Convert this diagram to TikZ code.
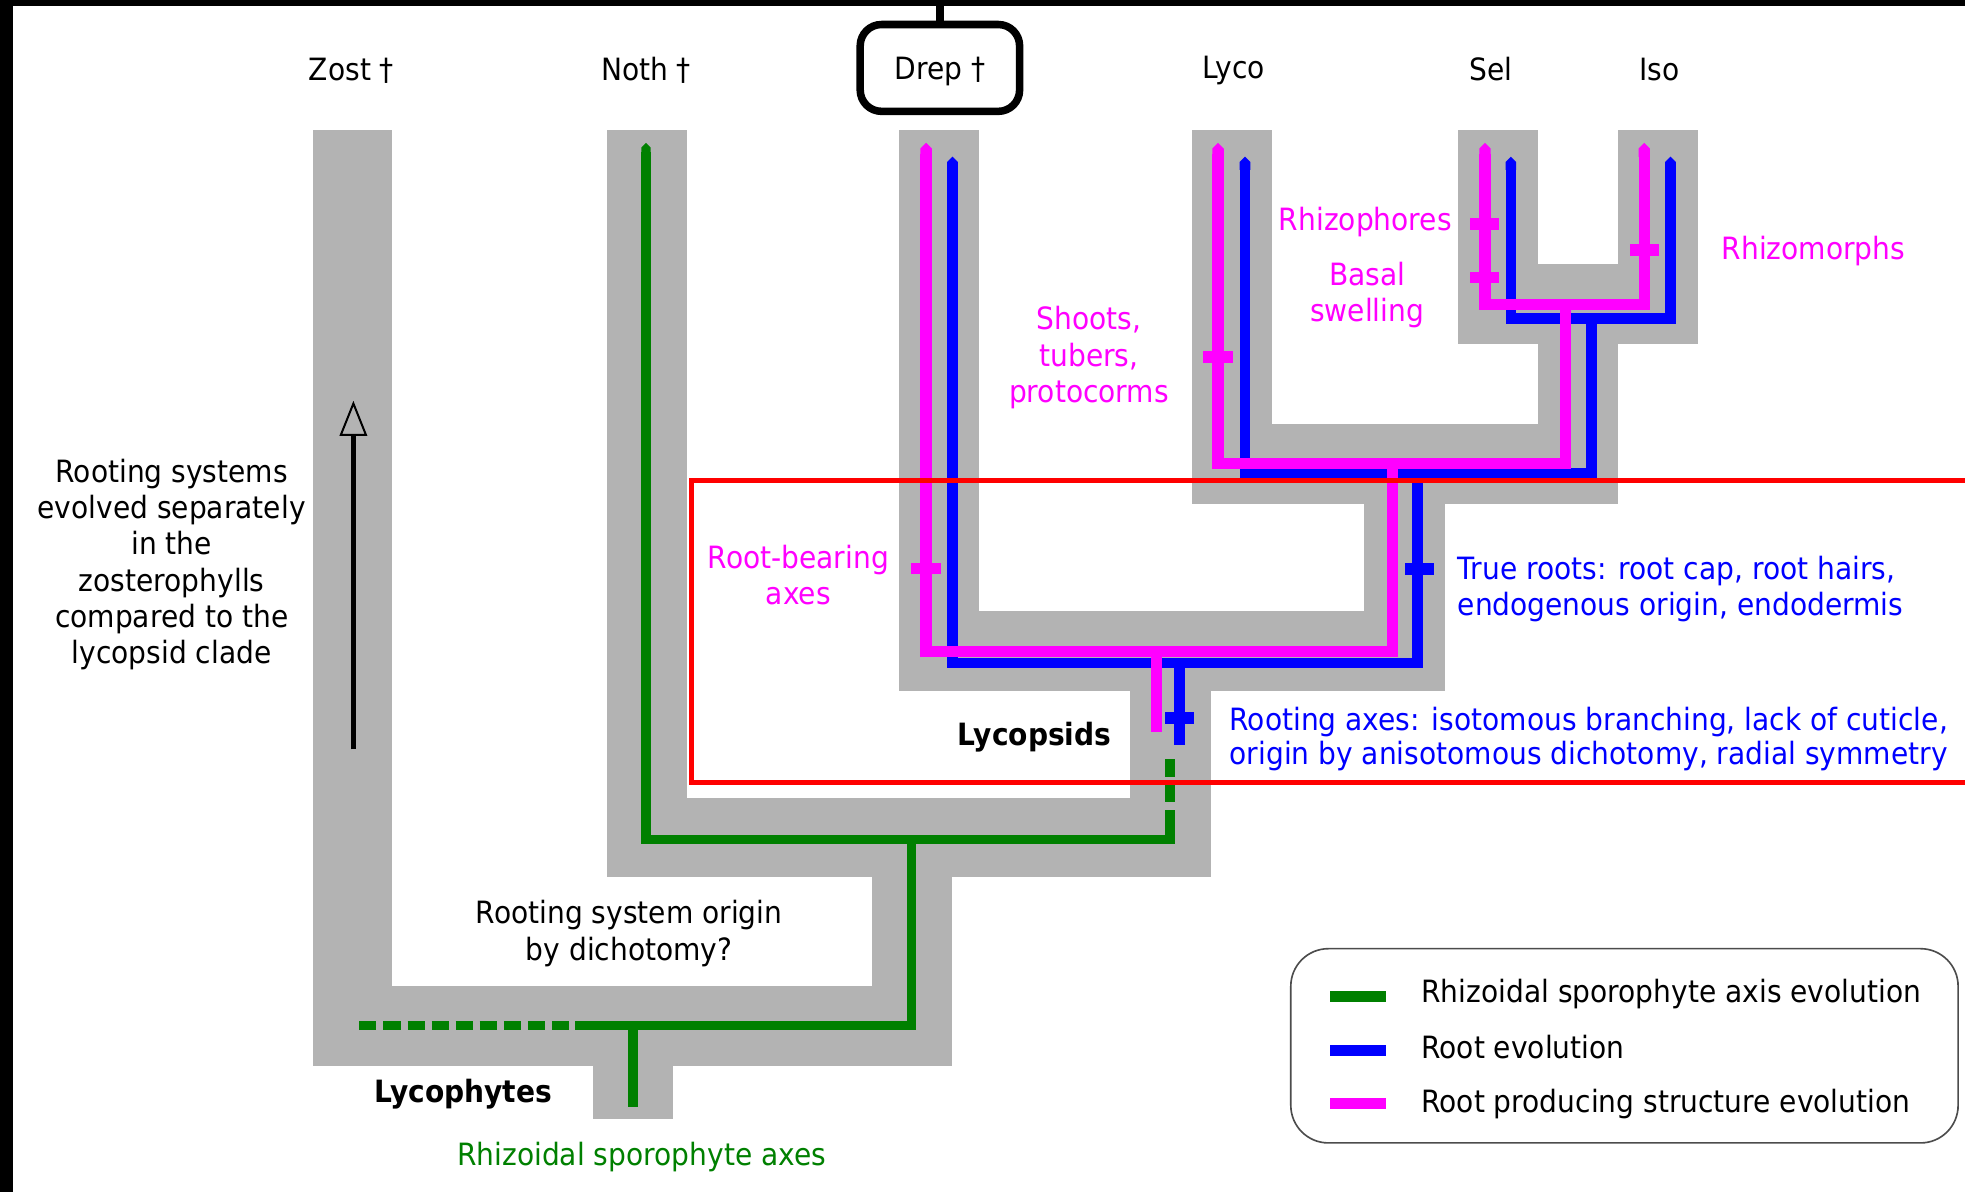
\documentclass[tikz,border=0pt]{standalone}
\usepackage{fontspec}
\setmainfont{DejaVu Sans}[FakeStretch=0.915]
\usetikzlibrary{arrows.meta}
\definecolor{gband}{HTML}{B3B3B3}
\definecolor{mag}{HTML}{FF00FF}
\definecolor{blu}{HTML}{0000FF}
\definecolor{grn}{HTML}{008000}
\definecolor{redbox}{HTML}{FF0000}
\begin{document}
\begin{tikzpicture}[x=1pt,y=-1pt,
  band/.style={fill=gband},
  magline/.style={draw=mag, line width=9pt},
  bluline/.style={draw=blu, line width=8.5pt},
  grnline/.style={draw=grn, line width=7.5pt},
  magtick/.style={fill=mag},
  blutick/.style={fill=blu},
  txt/.style={font=\fontsize{24.5}{29}\selectfont, inner sep=0pt},
  btxt/.style={font=\fontsize{24.5}{29}\selectfont\bfseries, inner sep=0pt},
  legtxt/.style={txt, anchor=base west},
]
\useasboundingbox[fill=white] (0,0) rectangle (1568,951);
\clip (0,0) rectangle (1568,951);
% frame remains
\fill[black] (0,0) rectangle (10.5,951);
\fill[black] (0,0) rectangle (1568,4.5);

% grey bands
\fill[band] (250,104) rectangle (313,851);
\fill[band] (250,787) rectangle (760,851);
\fill[band] (473,851) rectangle (537,893);
\fill[band] (696,700) rectangle (760,851);
\fill[band] (484,104) rectangle (548,700);
\fill[band] (484,637) rectangle (966,700);
\fill[band] (902,551.5) rectangle (966,700);
\fill[band] (717,104) rectangle (781,551.5);
\fill[band] (717,487.5) rectangle (1153,551.5);
\fill[band] (1088.5,402.5) rectangle (1153,551.5);
\fill[band] (951,104) rectangle (1015,402.5);
\fill[band] (951,338) rectangle (1291,402.5);
\fill[band] (1227.5,274.5) rectangle (1291,402.5);
\fill[band] (1163.5,104) rectangle (1227.5,274.5);
\fill[band] (1291,104) rectangle (1355,274.5);
\fill[band] (1163.5,210.5) rectangle (1355,274.5);

% key coordinates
\coordinate (bDrep) at (760,125);
\coordinate (bLyco) at (993.5,125);
\coordinate (bSel) at (1205.6,125);
\coordinate (bIso) at (1333,125);
\coordinate (mDrep) at (739,114);
\coordinate (mLyco) at (972,114);
\coordinate (mSel) at (1185,114);
\coordinate (mIso) at (1312,114);
\coordinate (gNoth) at (515.5,114);

% blue (root evolution)
\draw[bluline, {Triangle Cap}-] (bDrep) |- (1131,529) -- (1131,378);
\draw[bluline, {Triangle Cap}-] (bLyco) |- (1270,378) -- (1270,254);
\draw[bluline, {Triangle Cap}-{Triangle Cap}] (bSel) |- (1333,254) -- (bIso);
\draw[bluline] (941,529) -- (941,594.5);

% magenta (root producing structures)
\draw[magline, {Triangle Cap}-] (mDrep) |- (1111,520) -- (1111,370);
\draw[magline, {Triangle Cap}-] (mLyco) |- (1249,370) -- (1249,243);
\draw[magline, {Triangle Cap}-{Triangle Cap}] (mSel) |- (1312,243) -- (mIso);
\draw[magline] (923,520) -- (923,584);

% green (rhizoidal sporophyte axes)
\draw[grnline, {Triangle Cap}-] (gNoth) |- (933.6,670) -- (933.6,646);
\draw[grnline, dash pattern=on 14pt off 6pt] (933.6,606) -- (933.6,646);
\draw[grnline] (727.5,670) |- (458.5,818.5);
\draw[grnline, dash pattern=on 13.6pt off 5.6pt] (286.8,818.5) -- (454.5,818.5);
\draw[grnline] (505,818.5) -- (505,883);

% ticks
\fill[magtick] (727.3,448.9) rectangle (750.7,458.1);
\fill[magtick] (960.3,280.4) rectangle (983.7,289.6);
\fill[magtick] (1172.8,174.1) rectangle (1196.2,183.3);
\fill[magtick] (1172.8,216.7) rectangle (1196.2,225.9);
\fill[magtick] (1300.3,194.9) rectangle (1323.7,204.1);
\fill[blutick] (1120.8,449.4) rectangle (1144.2,458.6);
\fill[blutick] (929.3,568.4) rectangle (952.7,577.6);

% black arrow in Zost column
\coordinate (arrTip) at (282,322);
\coordinate (arrBase) at (282,347);
\coordinate (arrFoot) at (282,598);
\draw[line width=4.5pt] (arrFoot) -- (arrBase);
\draw[line width=1.6pt, line join=miter] (arrTip) -- (272,347) -- (292,347) -- cycle;

% red highlight box
\draw[redbox, line width=4pt] (551.5,383.6) rectangle (1600,624.3);

% taxa labels
\node[txt, anchor=base] (zost) at (280.5,64) {Zost †};
\node[txt, anchor=base] (noth) at (515.5,64) {Noth †};
\node[txt, draw, line width=6pt, rounded corners=17pt, minimum width=127.2pt, minimum height=69.3pt, text height=24pt, text depth=5.8pt] (drep) at (750,54.2) {Drep †};
\coordinate (topedge) at (750,-2);
\draw[line width=7pt] (drep.north) -- (topedge);
\node[txt, anchor=base] (lyco) at (984.5,63) {Lyco};
\node[txt, anchor=base] (sel) at (1190,64) {Sel};
\node[txt, anchor=base] (iso) at (1324,64) {Iso};

% annotations
\node[txt, align=center] (separate) at (137,450.5) {Rooting systems\\evolved separately\\in the\\zosterophylls\\compared to the\\lycopsid clade};
\node[txt, text=mag, anchor=base] (rhizophores) at (1089.5,184) {Rhizophores};
\node[txt, text=mag, align=center] (basal) at (1091,235.5) {Basal\\swelling};
\node[txt, text=mag, align=center] (shoots) at (869,285.5) {Shoots,\\tubers,\\protocorms};
\node[txt, text=mag, anchor=base] (rhizomorphs) at (1447,207) {Rhizomorphs};
\node[txt, text=mag, align=center] (rootbearing) at (637,459) {Root-bearing\\axes};
\node[txt, text=blu, align=left, anchor=west] (trueroots) at (1163,470) {True roots: root cap, root hairs,\\endogenous origin, endodermis};
\node[txt, text=blu, align=left, anchor=west, font=\fontsize{24.5}{27}\selectfont] (rootingaxes) at (981,589.5) {Rooting axes: isotomous branching, lack of cuticle,\\origin by anisotomous dichotomy, radial symmetry};
\node[btxt, anchor=base] (lycopsids) at (825.5,595) {Lycopsids};
\node[txt, align=center] (origin) at (502,745) {Rooting system origin\\by dichotomy?};
\node[btxt, anchor=base] (lycophytes) at (369.5,880) {Lycophytes};
\node[txt, text=grn, anchor=base] (rhizoidal) at (512,930) {Rhizoidal sporophyte axes};

% legend
\node[draw=black!70, line width=1.3pt, rounded corners=30pt, minimum width=532.5pt, minimum height=155pt, inner sep=0pt] (legend) at (1296.25,834.5) {};
\fill[grn] (1061,790.5) rectangle (1106,799.5);
\fill[blu] (1061,834) rectangle (1106,843);
\fill[mag] (1061,876.2) rectangle (1106,885.2);
\node[legtxt] (leg1) at (1134,800) {Rhizoidal sporophyte axis evolution};
\node[legtxt] (leg2) at (1134,845) {Root evolution};
\node[legtxt] (leg3) at (1134,888) {Root producing structure evolution};
\end{tikzpicture}
\end{document}
